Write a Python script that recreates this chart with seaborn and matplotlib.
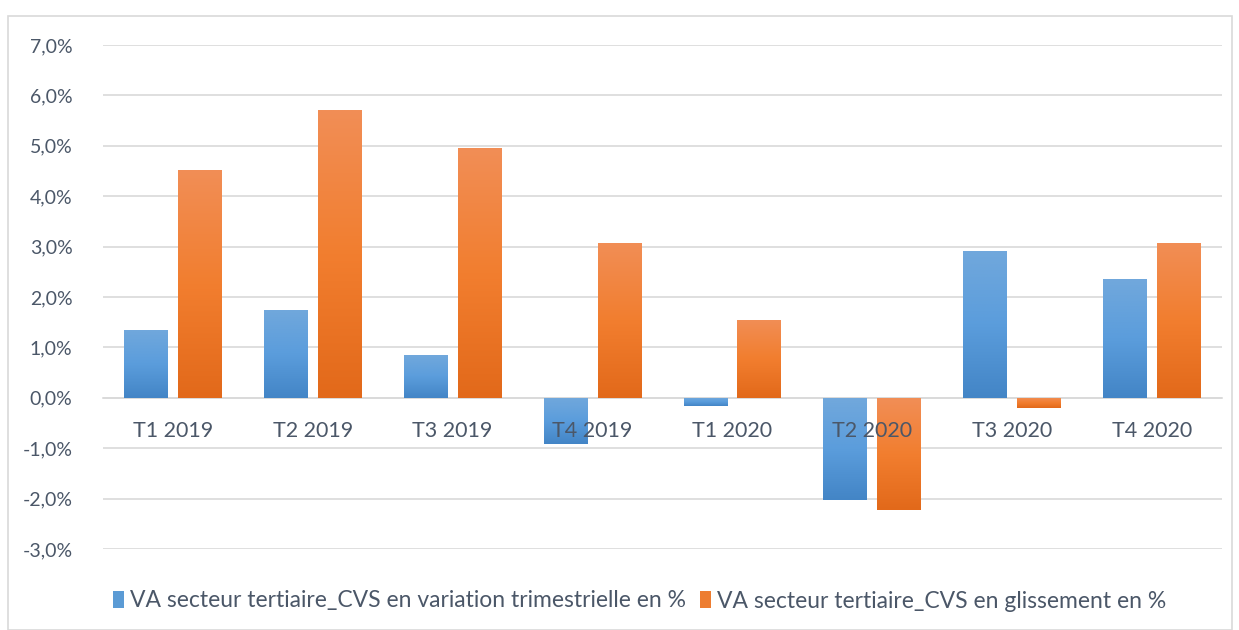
import numpy as np
import pandas as pd
import matplotlib
matplotlib.use("Agg")
import matplotlib.pyplot as plt
import seaborn as sns
from matplotlib.colors import LinearSegmentedColormap
from matplotlib.patches import Rectangle, Patch
from matplotlib.ticker import FuncFormatter

categories = ["T1 2019", "T2 2019", "T3 2019", "T4 2019",
              "T1 2020", "T2 2020", "T3 2020", "T4 2020"]
serie_trim = [1.35, 1.75, 0.85, -0.92, -0.16, -2.02, 2.92, 2.35]
serie_gliss = [4.51, 5.71, 4.95, 3.08, 1.55, -2.22, -0.21, 3.08]
series_names = ["VA secteur tertiaire_CVS en variation trimestrielle en %",
                "VA secteur tertiaire_CVS en glissement en %"]

df = pd.DataFrame({
    "cat": categories * 2,
    "val": serie_trim + serie_gliss,
    "serie": [series_names[0]] * len(categories) + [series_names[1]] * len(categories),
})

sns.set_theme(style="white")
plt.rcParams["font.family"] = ["Lato", "DejaVu Sans"]
text_color = "#4B5768"
grid_color = "#D9D9D9"

fig = plt.figure(figsize=(12.39, 6.3), dpi=100)
ax = fig.add_axes([103 / 1239, 1 - 549 / 630, (1222 - 103) / 1239, (549 - 45) / 630])

base_colors = {series_names[0]: "#5B9BD5", series_names[1]: "#ED7D31"}
sns.barplot(data=df, x="cat", y="val", hue="serie", palette=base_colors,
            order=categories, hue_order=series_names, width=0.77, gap=0.185,
            saturation=1, ax=ax, legend=False, zorder=3)

grad = {
    "#5B9BD5": LinearSegmentedColormap.from_list("b", ["#4385C6", "#5B9DDC", "#71A8DC"]),
    "#ED7D31": LinearSegmentedColormap.from_list("o", ["#E2691A", "#F27E2F", "#F18E56"]),
}
gimg = np.linspace(0, 1, 256).reshape(-1, 1)
for p in list(ax.patches):
    fc = matplotlib.colors.to_hex(p.get_facecolor()).upper()
    cmap = grad.get(fc)
    if cmap is None:
        continue
    x0, y0 = p.get_x(), p.get_y()
    w, h = p.get_width(), p.get_height()
    ylo, yhi = min(y0, y0 + h), max(y0, y0 + h)
    im = ax.imshow(gimg, cmap=cmap, aspect="auto", origin="lower",
                   extent=[x0, x0 + w, ylo, yhi], zorder=3.5)
    im.set_clip_path(p)
    p.set_edgecolor("none")

ax.set_ylim(-3, 7)
ax.set_xlim(-0.5, len(categories) - 0.5)
ax.set_yticks(np.arange(-3, 8, 1))
ax.yaxis.set_major_formatter(FuncFormatter(lambda v, _: f"{v:.1f}%".replace(".", ",")))
ax.grid(axis="y", color=grid_color, linewidth=1.2, zorder=0)
ax.set_axisbelow(True)
ax.xaxis.set_zorder(5)
for s in ["top", "right", "left"]:
    ax.spines[s].set_visible(False)
ax.spines["bottom"].set_position(("data", 0))
ax.spines["bottom"].set_color(grid_color)
ax.spines["bottom"].set_linewidth(1.2)
ax.spines["bottom"].set_zorder(2)
ax.tick_params(axis="x", length=0, pad=17, labelsize=15.5, labelcolor=text_color)
ax.tick_params(axis="y", length=0, pad=22, labelsize=14, labelcolor=text_color)
ax.set_xlabel("")
ax.set_ylabel("")

handles = [Patch(facecolor=base_colors[n], edgecolor="none") for n in series_names]
fig.legend(handles, series_names, loc="center left", bbox_to_anchor=(92 / 1239, 1 - 601 / 630),
           ncol=2, frameon=False, fontsize=16.5, labelcolor=text_color,
           handlelength=0.5, handleheight=0.8, handletextpad=0.25, columnspacing=0.6)

fig.patches.append(Rectangle((8 / 1239, 0), (1232 - 8) / 1239, 1 - 16 / 630,
                             transform=fig.transFigure, fill=False,
                             edgecolor="#D9D9D9", linewidth=1.2))

fig.savefig("out.png", dpi=100, facecolor="white")
